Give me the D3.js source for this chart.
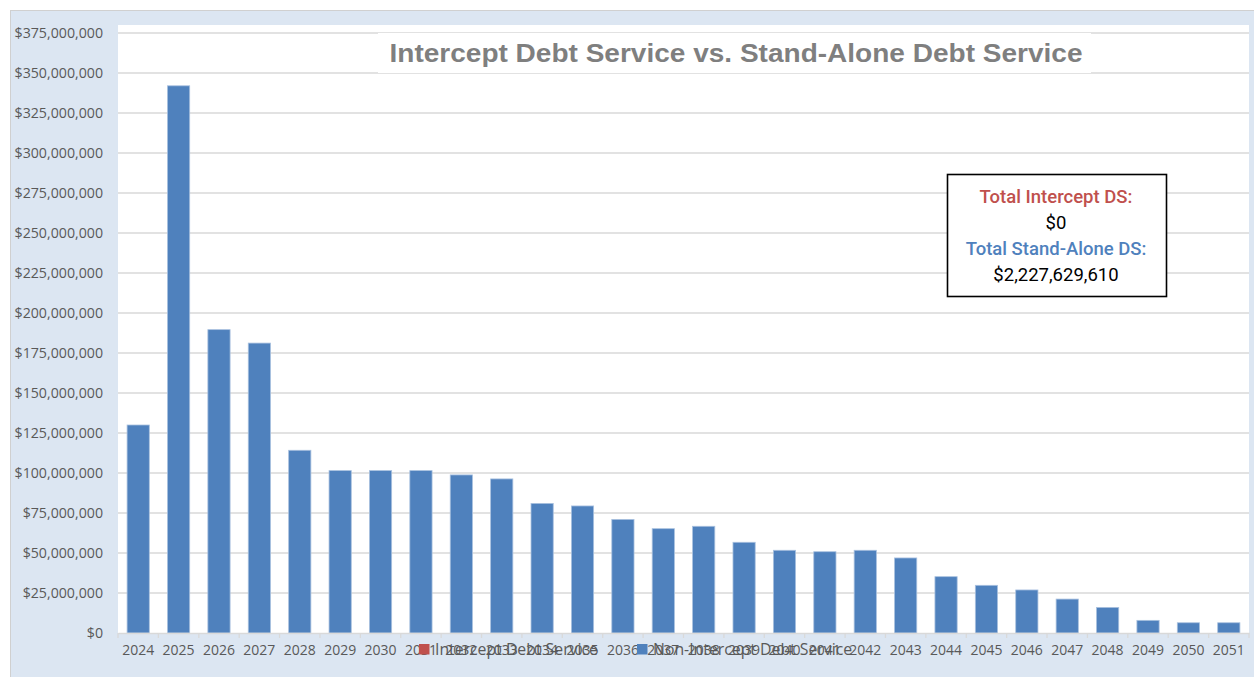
<!DOCTYPE html>
<meta charset='utf-8'>
<style>
body { margin: 0; background: #fff; }
svg { display: block; }
.tick text { fill: #595959; }
</style>
<svg width='1254' height='677'></svg>
<script src='https://d3js.org/d3.v7.min.js'></script>
<script>

var years = [2024, 2025, 2026, 2027, 2028, 2029, 2030, 2031, 2032, 2033, 2034, 2035, 2036, 2037,
             2038, 2039, 2040, 2041, 2042, 2043, 2044, 2045, 2046, 2047, 2048, 2049, 2050, 2051];
var interceptDS = [0, 0, 0, 0, 0, 0, 0, 0, 0, 0, 0, 0, 0, 0,
                   0, 0, 0, 0, 0, 0, 0, 0, 0, 0, 0, 0, 0, 0];
var nonInterceptDS = [130.0, 342.0, 189.6, 181.2, 114.2, 101.5, 101.5, 101.5, 98.8, 96.3, 81.0, 79.4, 71.0, 65.2,
                      66.7, 56.7, 51.7, 50.8, 51.7, 46.9, 35.2, 29.8, 26.9, 21.2, 16.0, 7.9, 6.4, 6.4]
                      .map(function(v) { return v * 1e6; });
var yTicks = d3.range(0, 375000001, 25000000);
var title = 'Intercept Debt Service vs. Stand-Alone Debt Service';
var seriesNames = ['Intercept Debt Service', 'Non-Intercept Debt Service'];
var totalIntercept = '$0';
var totalStandAlone = '$2,227,629,610';

var svg = d3.select('svg'),
    font = '"Open Sans", sans-serif',
    plotL = 118, plotR = 1249, plotT = 33, plotB = 633;

// outer chart area
svg.append('rect')
    .attr('x', 10.5).attr('y', 10.5)
    .attr('width', 1250).attr('height', 670)
    .attr('fill', '#dce6f2')
    .attr('stroke', '#d0d0d0');

svg.append('rect')
    .attr('x', plotL).attr('y', 25)
    .attr('width', plotR - plotL).attr('height', plotB - 25)
    .attr('fill', '#fff');

var x = d3.scaleBand()
    .domain(years)
    .range([plotL, plotR])
    .paddingInner(0.45)
    .paddingOuter(0.225);

var y = d3.scaleLinear()
    .domain([0, 375000000])
    .range([plotB, plotT]);

var fmt = function(d) { return d === 0 ? '$0' : '$' + d3.format(',')(d); };

// gridlines
svg.append('g')
    .selectAll('line')
    .data(yTicks.slice(1))
    .enter()
    .append('line')
    .attr('x1', plotL).attr('x2', plotR)
    .attr('y1', function(d) { return y(d); })
    .attr('y2', function(d) { return y(d); })
    .attr('stroke', '#d9d9d9')
    .attr('stroke-width', 1.3);

// y axis labels
var yAxis = svg.append('g')
    .attr('transform', 'translate(' + plotL + ',0)')
    .call(d3.axisLeft(y).tickValues(yTicks).tickFormat(fmt).tickSize(0).tickPadding(15));
yAxis.select('.domain').remove();
yAxis.selectAll('text').style('font-family', font).style('font-size', '14.2px');

// bars
svg.append('g')
    .selectAll('rect')
    .data(years.map(function(yr, i) { return { year: yr, v: nonInterceptDS[i] }; }))
    .enter()
    .append('rect')
    .attr('x', function(d) { return x(d.year); })
    .attr('width', x.bandwidth())
    .attr('y', function(d) { return y(d.v); })
    .attr('height', function(d) { return plotB - y(d.v); })
    .attr('fill', '#4f81bd')
    .attr('stroke', '#a9c1df')
    .attr('stroke-width', 0.8);

svg.append('g')
    .selectAll('rect')
    .data(years.map(function(yr, i) { return { year: yr, v: interceptDS[i] }; }))
    .enter()
    .append('rect')
    .attr('x', function(d) { return x(d.year); })
    .attr('width', x.bandwidth())
    .attr('y', function(d) { return y(d.v); })
    .attr('height', function(d) { return plotB - y(d.v); })
    .attr('fill', '#c0504d');

// x axis
var xAxis = svg.append('g')
    .attr('transform', 'translate(0,' + plotB + ')')
    .call(d3.axisBottom(x).tickSize(0).tickPadding(12));
xAxis.select('.domain').attr('stroke', '#d9d9d9').attr('stroke-width', 1.5);
xAxis.selectAll('text').style('font-family', font).style('font-size', '14px');
svg.append('g')
    .selectAll('line')
    .data(d3.range(years.length + 1))
    .enter()
    .append('line')
    .attr('x1', function(i) { return plotL + i * x.step(); })
    .attr('x2', function(i) { return plotL + i * x.step(); })
    .attr('y1', plotB).attr('y2', plotB + 5)
    .attr('stroke', '#d9d9d9')
    .attr('stroke-width', 1.3);

// title
svg.append('rect')
    .attr('x', 378).attr('y', 33)
    .attr('width', 713).attr('height', 40)
    .attr('fill', '#fff');
svg.append('text')
    .attr('x', 736).attr('y', 61.5)
    .attr('text-anchor', 'middle')
    .attr('textLength', 693)
    .attr('lengthAdjust', 'spacingAndGlyphs')
    .style('font-family', '"Liberation Sans", Arial, sans-serif')
    .style('font-weight', 'bold')
    .style('font-size', '25.5px')
    .attr('fill', '#7f7f7f')
    .text(title);

// totals box
var box = svg.append('g');
box.append('rect')
    .attr('x', 947.5).attr('y', 174.5)
    .attr('width', 219).attr('height', 122)
    .attr('fill', '#fff')
    .attr('stroke', '#000')
    .attr('stroke-width', 1.6);
var lines = [['Total Intercept DS:', '#c0504d', 500], [totalIntercept, '#000', 400],
             ['Total Stand-Alone DS:', '#4f81bd', 500], [totalStandAlone, '#000', 400]];
box.selectAll('text')
    .data(lines)
    .enter()
    .append('text')
    .attr('x', 1056)
    .attr('y', function(d, i) { return 203 + i * 26; })
    .attr('text-anchor', 'middle')
    .style('font-family', 'Roboto, sans-serif')
    .style('font-size', '18.5px')
    .style('font-weight', function(d) { return d[2]; })
    .attr('fill', function(d) { return d[1]; })
    .text(function(d) { return d[0]; });

// legend
var legend = svg.append('g');
var legendX = [419, 637];
seriesNames.forEach(function(name, i) {
    legend.append('rect')
        .attr('x', legendX[i]).attr('y', 644)
        .attr('width', 10.5).attr('height', 10.5)
        .attr('fill', i === 0 ? '#c0504d' : '#4f81bd');
    legend.append('text')
        .attr('x', legendX[i] + 16).attr('y', 655)
        .style('font-family', font)
        .style('font-size', '15.8px')
        .attr('fill', '#595959')
        .text(name);
});

</script>
